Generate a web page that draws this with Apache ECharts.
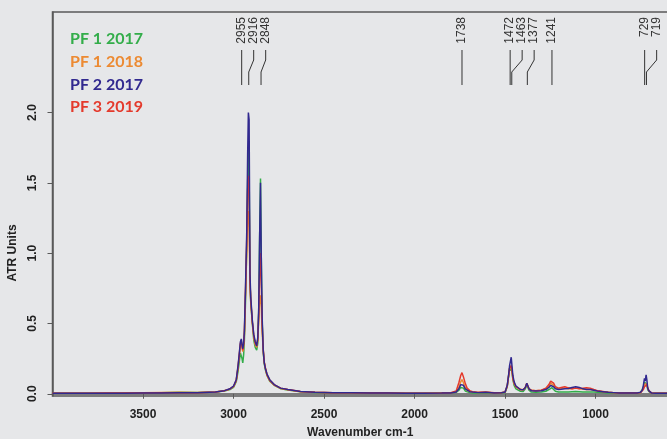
<!DOCTYPE html>
<html>
<head>
<meta charset="utf-8">
<script src="https://cdn.jsdelivr.net/npm/echarts@6/dist/echarts.min.js"></script>
<style>
  html, body { margin: 0; padding: 0; background: #e6e7e9; }
  #chart { width: 667px; height: 439px; }
</style>
</head>
<body>
<div id="chart"></div>
<script>
// wavenumber grid (cm-1), shared by all four spectra
const wn = [
  4000, 3900, 3800, 3700, 3600, 3500, 3400, 3300, 3200, 3100,
  3050, 3020, 3000, 2985, 2975, 2968, 2962, 2957, 2953, 2949,
  2944, 2940, 2934, 2927, 2922, 2918, 2914, 2909, 2905, 2896,
  2888, 2880, 2872, 2866, 2861, 2856, 2851, 2847, 2842, 2836,
  2830, 2824, 2815, 2800, 2775, 2740, 2700, 2630, 2550, 2450,
  2350, 2250, 2150, 2050, 1950, 1850, 1800, 1770, 1755, 1745,
  1738, 1730, 1720, 1710, 1695, 1680, 1650, 1607, 1560, 1520,
  1500, 1488, 1480, 1475, 1470, 1466, 1462, 1457, 1450, 1440,
  1430, 1415, 1400, 1388, 1380, 1375, 1368, 1355, 1330, 1300,
  1275, 1258, 1248, 1241, 1232, 1222, 1205, 1190, 1170, 1150,
  1130, 1110, 1090, 1070, 1050, 1030, 1010, 990, 960, 930,
  900, 870, 840, 800, 770, 752, 742, 736, 730, 726,
  721, 717, 712, 705, 698, 690, 670, 640, 600
];

const pf1_2017 = [
  0.004, 0.004, 0.004, 0.004, 0.005, 0.006, 0.008, 0.01, 0.009, 0.012,
  0.02, 0.03, 0.045, 0.085, 0.16, 0.23, 0.29, 0.3, 0.25, 0.22,
  0.28, 0.38, 0.65, 1.05, 1.5, 1.75, 1.6, 0.8, 0.65, 0.5,
  0.38, 0.33, 0.31, 0.36, 0.58, 1.1, 1.53, 1.0, 0.52, 0.3,
  0.21, 0.17, 0.13, 0.09, 0.06, 0.036, 0.026, 0.014, 0.009, 0.007,
  0.007, 0.005, 0.004, 0.004, 0.004, 0.005, 0.005, 0.01, 0.025, 0.045,
  0.05, 0.04, 0.02, 0.012, 0.008, 0.006, 0.005, 0.006, 0.004, 0.005,
  0.008, 0.05, 0.13, 0.18, 0.17, 0.19, 0.16, 0.1, 0.06, 0.035,
  0.025, 0.018, 0.016, 0.035, 0.065, 0.06, 0.025, 0.012, 0.01, 0.012,
  0.018, 0.03, 0.04, 0.043, 0.03, 0.018, 0.012, 0.012, 0.012, 0.012,
  0.014, 0.016, 0.015, 0.012, 0.012, 0.012, 0.012, 0.01, 0.008, 0.006,
  0.005, 0.004, 0.004, 0.004, 0.005, 0.008, 0.02, 0.045, 0.08, 0.07,
  0.09, 0.07, 0.03, 0.015, 0.007, 0.004, 0.003, 0.003, 0.003
];

const pf1_2018 = [
  0.004, 0.004, 0.004, 0.004, 0.005, 0.007, 0.009, 0.01, 0.009, 0.012,
  0.021, 0.033, 0.05, 0.095, 0.19, 0.27, 0.35, 0.37, 0.33, 0.3,
  0.34, 0.42, 0.7, 1.0, 1.25, 1.3, 1.2, 0.78, 0.66, 0.5,
  0.4, 0.35, 0.33, 0.38, 0.52, 0.66, 0.7, 0.62, 0.45, 0.3,
  0.22, 0.18, 0.13, 0.095, 0.062, 0.038, 0.028, 0.015, 0.01, 0.008,
  0.008, 0.005, 0.005, 0.004, 0.004, 0.005, 0.006, 0.014, 0.045, 0.085,
  0.1, 0.08, 0.045, 0.025, 0.016, 0.012, 0.008, 0.01, 0.006, 0.007,
  0.012, 0.055, 0.13, 0.18, 0.17, 0.2, 0.17, 0.11, 0.075, 0.05,
  0.04, 0.03, 0.028, 0.045, 0.075, 0.07, 0.035, 0.025, 0.022, 0.025,
  0.035, 0.055, 0.075, 0.08, 0.06, 0.04, 0.035, 0.04, 0.04, 0.035,
  0.035, 0.04, 0.038, 0.032, 0.03, 0.032, 0.025, 0.02, 0.015, 0.01,
  0.008, 0.006, 0.005, 0.005, 0.006, 0.009, 0.02, 0.04, 0.07, 0.06,
  0.08, 0.07, 0.04, 0.02, 0.01, 0.005, 0.004, 0.004, 0.004
];

const pf2_2017 = [
  0.004, 0.004, 0.004, 0.004, 0.004, 0.005, 0.006, 0.007, 0.008, 0.012,
  0.022, 0.035, 0.055, 0.1, 0.2, 0.29, 0.37, 0.39, 0.35, 0.32,
  0.36, 0.45, 0.75, 1.15, 1.7, 2.0, 1.95, 0.85, 0.69, 0.52,
  0.42, 0.37, 0.34, 0.4, 0.6, 1.1, 1.5, 1.0, 0.55, 0.31,
  0.22, 0.18, 0.14, 0.1, 0.065, 0.04, 0.03, 0.016, 0.01, 0.008,
  0.008, 0.005, 0.005, 0.004, 0.004, 0.005, 0.006, 0.012, 0.035, 0.065,
  0.075, 0.06, 0.035, 0.022, 0.015, 0.012, 0.008, 0.01, 0.006, 0.007,
  0.012, 0.06, 0.14, 0.2, 0.19, 0.26, 0.2, 0.13, 0.085, 0.055,
  0.042, 0.03, 0.028, 0.045, 0.075, 0.07, 0.035, 0.022, 0.02, 0.022,
  0.03, 0.045, 0.06, 0.065, 0.05, 0.035, 0.03, 0.032, 0.035, 0.038,
  0.045, 0.05, 0.045, 0.035, 0.03, 0.03, 0.025, 0.02, 0.015, 0.01,
  0.008, 0.006, 0.005, 0.005, 0.006, 0.01, 0.025, 0.06, 0.11, 0.09,
  0.135, 0.1, 0.04, 0.02, 0.01, 0.005, 0.004, 0.004, 0.004
];

const pf3_2019 = [
  0.004, 0.004, 0.004, 0.005, 0.005, 0.006, 0.007, 0.008, 0.008, 0.012,
  0.022, 0.034, 0.052, 0.095, 0.19, 0.28, 0.36, 0.38, 0.34, 0.31,
  0.35, 0.43, 0.72, 1.1, 1.45, 1.55, 1.45, 0.8, 0.67, 0.51,
  0.41, 0.36, 0.34, 0.39, 0.56, 0.85, 1.0, 0.8, 0.5, 0.32,
  0.225, 0.185, 0.135, 0.095, 0.063, 0.04, 0.03, 0.016, 0.01, 0.008,
  0.008, 0.005, 0.005, 0.004, 0.004, 0.005, 0.007, 0.02, 0.08, 0.13,
  0.15, 0.12, 0.074, 0.04, 0.022, 0.015, 0.01, 0.012, 0.007, 0.008,
  0.012, 0.055, 0.13, 0.18, 0.17, 0.2, 0.17, 0.11, 0.075, 0.05,
  0.04, 0.03, 0.028, 0.045, 0.075, 0.07, 0.035, 0.025, 0.022, 0.025,
  0.04, 0.065, 0.09, 0.1, 0.075, 0.05, 0.04, 0.045, 0.05, 0.042,
  0.035, 0.04, 0.036, 0.04, 0.043, 0.04, 0.03, 0.022, 0.016, 0.01,
  0.008, 0.006, 0.005, 0.005, 0.006, 0.008, 0.015, 0.03, 0.05, 0.045,
  0.055, 0.065, 0.04, 0.02, 0.01, 0.005, 0.004, 0.004, 0.004
];

const seriesNames = ["PF 1 2017", "PF 1 2018", "PF 2 2017", "PF 3 2019"];
const peakLabels = [2955, 2916, 2848, 1738, 1472, 1463, 1377, 1241, 729, 719];
const xTicks = [3500, 3000, 2500, 2000, 1500, 1000];
const yTicks = [0, 0.5, 1, 1.5, 2];

const colors = {
  "PF 1 2017": "#33ad4a",
  "PF 1 2018": "#ec8a32",
  "PF 2 2017": "#31298f",
  "PF 3 2019": "#e43a2c"
};

const chart = echarts.init(document.getElementById("chart"));

function pairs(arr) {
  return wn.map((w, i) => [w, arr[i]]);
}

// labels above peaks, spread apart and joined to the peak by a kinked line
function renderPeak(params, api) {
  const xs = peakLabels.map(v => api.coord([v, 0])[0]);
  const order = xs.map((x, i) => i).sort((a, b) => xs[a] - xs[b]);
  const lx = xs.slice();
  let prev = -Infinity;
  order.forEach(i => {
    lx[i] = Math.max(xs[i], prev + 12);
    prev = lx[i];
  });
  const i = params.dataIndex;
  const top = params.coordSys.y;
  return {
    type: "group",
    children: [
      {
        type: "polyline",
        shape: { points: [[lx[i], top + 38], [lx[i], top + 48], [xs[i], top + 60], [xs[i], top + 73]] },
        style: { stroke: "#333", lineWidth: 1, fill: null }
      },
      {
        type: "text",
        x: lx[i],
        y: top + 5,
        rotation: Math.PI / 2,
        style: {
          text: String(peakLabels[i]),
          align: "right",
          verticalAlign: "middle",
          font: '12px "Liberation Sans", Arial',
          fill: "#333"
        }
      }
    ]
  };
}

const drawOrder = ["PF 1 2017", "PF 1 2018", "PF 3 2019", "PF 2 2017"];
const dataByName = {
  "PF 1 2017": pf1_2017,
  "PF 1 2018": pf1_2018,
  "PF 2 2017": pf2_2017,
  "PF 3 2019": pf3_2019
};

let series = drawOrder.map(name => ({
  name: name,
  type: "line",
  data: pairs(dataByName[name]),
  showSymbol: false,
  color: colors[name],
  lineStyle: { width: 1.5 }
}));
series.push({
  type: "custom",
  name: "peaks",
  renderItem: renderPeak,
  data: peakLabels.map(v => [v, 0]),
  encode: { x: 0, y: 1 },
  clip: false,
  silent: true,
  z: 5
});

let option = {
  backgroundColor: "#e6e7e9",
  animation: false,
  legend: {
    data: seriesNames.map(n => ({ name: n, textStyle: { color: colors[n] } })),
    orient: "vertical",
    left: 60,
    top: 26,
    itemWidth: 0,
    itemHeight: 14,
    itemGap: 6.7,
    icon: "rect",
    selectedMode: false,
    textStyle: {
      fontFamily: "Lato",
      fontWeight: "bold",
      fontSize: 16,
      lineHeight: 16
    }
  },
  grid: {
    left: 52.5,
    right: -1,
    top: 12,
    bottom: 43,
    outerBoundsMode: "none",
    show: true,
    borderColor: "#5a5a5a",
    borderWidth: 1.5
  },
  xAxis: {
    type: "value",
    min: 600,
    max: 4000,
    inverse: true,
    name: "Wavenumber cm-1",
    nameLocation: "middle",
    nameGap: 31,
    nameTextStyle: { fontFamily: "Liberation Sans", fontWeight: "bold", fontSize: 12, color: "#222" },
    splitLine: { show: false },
    axisLine: { lineStyle: { color: "#5a5a5a", width: 1.5 } },
    axisTick: { customValues: xTicks, length: 5, lineStyle: { color: "#5a5a5a" } },
    axisLabel: {
      customValues: xTicks,
      margin: 13,
      formatter: v => String(v),
      fontFamily: "Liberation Sans",
      fontWeight: "bold",
      fontSize: 12,
      color: "#222"
    }
  },
  yAxis: {
    type: "value",
    min: -0.016,
    max: 2.715,
    name: "ATR Units",
    nameLocation: "middle",
    nameGap: 31,
    nameRotate: 90,
    nameTextStyle: {
      fontFamily: "Liberation Sans",
      fontWeight: "bold",
      fontSize: 12,
      color: "#222",
      padding: [0, 98, 0, 0]
    },
    splitLine: { show: false },
    axisLine: { show: true, lineStyle: { color: "#5a5a5a", width: 1.5 } },
    axisTick: { show: true, customValues: yTicks, length: 5, lineStyle: { color: "#5a5a5a" } },
    axisLabel: {
      customValues: yTicks,
      rotate: 90,
      margin: 14,
      formatter: v => v.toFixed(1),
      fontFamily: "Liberation Sans",
      fontWeight: "bold",
      fontSize: 12,
      color: "#222"
    }
  },
  series: series
};

chart.setOption(option);
window.addEventListener("resize", () => {
  chart.resize();
});
</script>
</body>
</html>
